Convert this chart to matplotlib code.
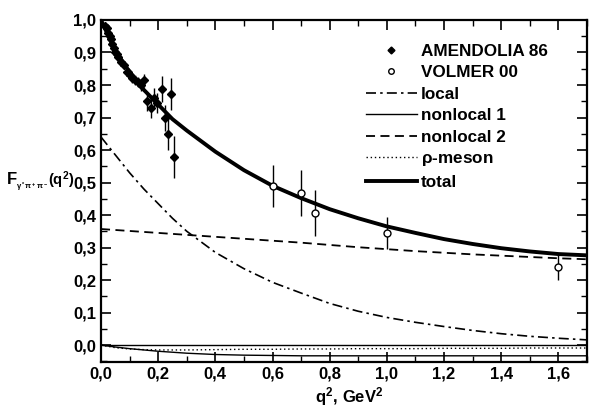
import matplotlib
matplotlib.use("Agg")
import matplotlib.pyplot as plt
from matplotlib.lines import Line2D
from matplotlib.ticker import MultipleLocator, FuncFormatter

plt.rcParams['font.family'] = ['Liberation Sans', 'DejaVu Sans']
plt.rcParams['font.weight'] = 'bold'
plt.rcParams['mathtext.fontset'] = 'custom'
plt.rcParams['mathtext.rm'] = 'Liberation Sans:bold'
plt.rcParams['mathtext.it'] = 'Liberation Sans:bold'
plt.rcParams['mathtext.bf'] = 'Liberation Sans:bold'

# Amendolia 86 data
amend_q2 = [0.015, 0.02, 0.025, 0.03, 0.035, 0.04, 0.045, 0.05, 0.055, 0.06,
            0.07, 0.08, 0.09, 0.095, 0.10, 0.11, 0.12, 0.13, 0.14, 0.15,
            0.16, 0.175, 0.185, 0.196, 0.213, 0.224, 0.234, 0.245, 0.255]
amend_F = [0.98, 0.975, 0.96, 0.95, 0.94, 0.925, 0.915, 0.90, 0.895, 0.885,
           0.87, 0.86, 0.84, 0.84, 0.83, 0.82, 0.815, 0.81, 0.80, 0.815,
           0.75, 0.73, 0.76, 0.745, 0.788, 0.70, 0.65, 0.772, 0.578]
amend_err = [0.008, 0.008, 0.008, 0.008, 0.008, 0.009, 0.009, 0.01, 0.01, 0.01,
             0.01, 0.012, 0.012, 0.012, 0.013, 0.014, 0.015, 0.016, 0.018, 0.02,
             0.03, 0.03, 0.03, 0.03, 0.04, 0.04, 0.05, 0.05, 0.065]

# Volmer 00 data
volmer_q2 = [0.6, 0.7, 0.75, 1.0, 1.6]
volmer_F = [0.49, 0.468, 0.406, 0.345, 0.24]
volmer_err = [0.065, 0.07, 0.07, 0.05, 0.04]

# model curves
q2 = [0.0, 0.05, 0.1, 0.15, 0.2, 0.25, 0.3, 0.4, 0.5, 0.6, 0.7, 0.8,
      0.9, 1.0, 1.1, 1.2, 1.3, 1.4, 1.5, 1.6, 1.7]
total = [1.0, 0.905, 0.84, 0.785, 0.74, 0.695, 0.66, 0.595, 0.538, 0.49,
         0.452, 0.418, 0.39, 0.365, 0.345, 0.326, 0.311, 0.298, 0.288, 0.28, 0.276]
local = [0.64, 0.585, 0.53, 0.48, 0.435, 0.39, 0.35, 0.285, 0.235, 0.193,
         0.16, 0.128, 0.104, 0.085, 0.07, 0.057, 0.045, 0.035, 0.027, 0.021, 0.016]
nonlocal2 = [0.357, 0.354, 0.351, 0.348, 0.345, 0.342, 0.339, 0.333, 0.327, 0.321,
             0.315, 0.308, 0.301, 0.295, 0.289, 0.284, 0.279, 0.275, 0.271, 0.267, 0.264]
nonlocal1 = [0.0, -0.006, -0.011, -0.015, -0.019, -0.022, -0.025, -0.029, -0.031, -0.032,
             -0.033, -0.033, -0.033, -0.033, -0.033, -0.033, -0.033, -0.033, -0.033, -0.033, -0.033]
rho = [0.0, -0.008, -0.012, -0.014, -0.015, -0.015, -0.015, -0.014, -0.013, -0.013,
       -0.012, -0.012, -0.011, -0.011, -0.011, -0.010, -0.010, -0.010, -0.009, -0.009, -0.009]

fig = plt.figure(figsize=(5.89, 4.12), dpi=100)
ax = fig.add_axes([0.1715, 0.1214, 0.8251, 0.8301])

ax.axhline(0, color='black', lw=1.0)
ax.plot(q2, local, color='black', lw=1.2, ls=(0, (6, 2.5, 1.5, 2.5)))
ax.plot(q2, nonlocal1, color='black', lw=1.0)
ax.plot(q2, nonlocal2, color='black', lw=1.3, ls=(0, (5, 3)))
ax.plot(q2, rho, color='black', lw=1.0, ls=(0, (1, 2)))
ax.plot(q2, total, color='black', lw=2.8)

ax.errorbar(amend_q2, amend_F, yerr=amend_err, fmt='D', color='black',
            ms=4, elinewidth=1.0, capsize=0)
ax.errorbar(volmer_q2, volmer_F, yerr=volmer_err, fmt='o', color='black',
            mfc='white', ms=5, mew=1.0, elinewidth=1.0, capsize=0)

ax.set_xlim(0, 1.7)
ax.set_ylim(-0.052, 1.0)
ax.xaxis.set_major_locator(MultipleLocator(0.2))
ax.xaxis.set_minor_locator(MultipleLocator(0.1))
ax.yaxis.set_major_locator(MultipleLocator(0.1))
ax.yaxis.set_minor_locator(MultipleLocator(0.05))
comma = FuncFormatter(lambda v, p: ("%.1f" % v).replace('.', ','))
ax.xaxis.set_major_formatter(comma)
ax.yaxis.set_major_formatter(comma)
ax.tick_params(which='both', direction='in', top=True, right=True, labelsize=12)
ax.tick_params(which='major', length=7, width=1.2)
ax.tick_params(which='minor', length=4, width=1.0)
ax.set_yticks([v / 10 for v in range(0, 11)])
for s in ax.spines.values():
    s.set_linewidth(1.6)

handles = [
    Line2D([], [], ls='none', marker='D', color='black', ms=3.5),
    Line2D([], [], ls='none', marker='o', color='black', mfc='white', ms=4),
    Line2D([], [], color='black', lw=1.2, ls=(0, (6, 2.5, 1.5, 2.5))),
    Line2D([], [], color='black', lw=1.0),
    Line2D([], [], color='black', lw=1.3, ls=(0, (5, 3))),
    Line2D([], [], color='black', lw=1.0, ls=(0, (1, 2))),
    Line2D([], [], color='black', lw=2.8),
]
labels = ['AMENDOLIA 86', 'VOLMER 00', 'local', 'nonlocal 1', 'nonlocal 2',
          r'$\rho$-meson', 'total']
ax.legend(handles, labels, loc='upper left', bbox_to_anchor=(0.545, 0.93),
          frameon=False, fontsize=12.3, handlelength=3.0, handletextpad=0.2,
          labelspacing=0.38, borderpad=0.0, borderaxespad=0.0)

# y label built from pieces so the subscript stays small
fig.text(7 / 589, 1 - 180 / 412, 'F', fontsize=12, ha='left', va='center')
fig.text(16 / 589, 1 - 187 / 412, r'$\gamma^*\pi^+\pi^-$', fontsize=5.5,
         ha='left', va='center')
fig.text(48 / 589, 1 - 180 / 412, r'$(q^2)$', fontsize=10.5, ha='left', va='center')
fig.text(315 / 589, 1 - 397 / 412, r'$q^2$, GeV$^2$', fontsize=12,
         ha='left', va='center')

fig.savefig('out.png', dpi=100)
